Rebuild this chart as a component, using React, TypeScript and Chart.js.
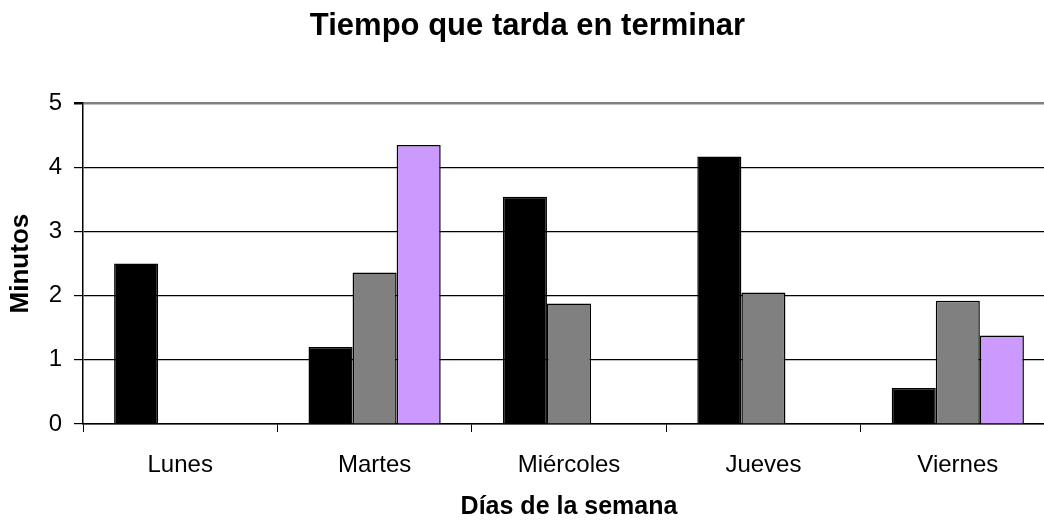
import React, { useEffect, useRef } from "react";
import { Chart, registerables } from "chart.js";

Chart.register(...registerables);

const categories = ["Lunes", "Martes", "Miércoles", "Jueves", "Viernes"];
const serie1 = [2.5, 1.2, 3.54, 4.17, 0.56];
const serie2 = [null, 2.36, 1.88, 2.05, 1.92];
const serie3 = [null, 4.35, null, null, 1.38];
const yTicks = [0, 1, 2, 3, 4, 5];

const FONT = "'Liberation Sans', Arial, Helvetica, sans-serif";

export default function App() {
  const ref = useRef<HTMLCanvasElement | null>(null);

  useEffect(() => {
    if (!ref.current) return;
    const chart = new Chart(ref.current, {
      type: "bar",
      data: {
        labels: categories,
        datasets: [
          { label: "Serie 1", data: serie1, backgroundColor: "#000000", borderColor: "#000000", borderWidth: 1.5 },
          { label: "Serie 2", data: serie2, backgroundColor: "#808080", borderColor: "#000000", borderWidth: 1.5 },
          { label: "Serie 3", data: serie3, backgroundColor: "#CC99FF", borderColor: "#000000", borderWidth: 1.5 },
        ],
      },
      options: {
        animation: false,
        responsive: true,
        maintainAspectRatio: false,
        layout: { padding: { left: 0, right: 9, top: 0, bottom: 0 } },
        datasets: { bar: { barPercentage: 1, categoryPercentage: 0.68 } },
        plugins: {
          legend: { display: false },
          tooltip: { enabled: false },
          title: {
            display: true,
            text: "Tiempo que tarda en terminar",
            color: "#000000",
            font: { family: FONT, size: 31, weight: "bold" },
            padding: { top: 8, bottom: 58 },
          },
        },
        scales: {
          x: {
            afterFit: (s: any) => { s.height = 99; },
            grid: {
              offset: true,
              drawOnChartArea: false,
              drawTicks: true,
              tickLength: 8,
              color: "#000000",
              tickColor: "#000000",
            },
            border: { display: true, color: "#000000", width: 1.5 },
            ticks: {
              color: "#000000",
              font: { family: FONT, size: 24 },
              padding: 19,
              maxRotation: 0,
            },
            title: {
              display: true,
              text: "Días de la semana",
              color: "#000000",
              font: { family: FONT, size: 25, weight: "bold" },
              padding: { top: 4, bottom: 1 },
            },
          },
          y: {
            min: 0,
            max: 5,
            afterFit: (s: any) => { s.width = 83; },
            afterBuildTicks: (s: any) => { s.ticks = yTicks.map((v) => ({ value: v })); },
            grid: {
              color: (ctx: any) => (ctx.tick && ctx.tick.value === 5 ? "#808080" : "#000000"),
              lineWidth: (ctx: any) => (ctx.tick && ctx.tick.value === 5 ? 2.5 : 1.2),
              tickColor: "#000000",
              tickLength: 9,
              drawTicks: true,
            },
            border: { display: true, color: "#000000", width: 1.5 },
            ticks: {
              color: "#000000",
              font: { family: FONT, size: 24 },
              padding: 12,
            },
            title: {
              display: true,
              text: "Minutos",
              color: "#000000",
              font: { family: FONT, size: 26, weight: "bold" },
              padding: { top: 5, bottom: 4 },
            },
          },
        },
      },
    });
    return () => chart.destroy();
  }, []);

  return (
    <div style={{ position: "fixed", left: 0, top: 0, width: 1044, height: 523, overflow: "hidden", background: "#ffffff" }}>
      <div style={{ position: "relative", width: 1064, height: 523 }}>
        <canvas ref={ref} />
      </div>
    </div>
  );
}
